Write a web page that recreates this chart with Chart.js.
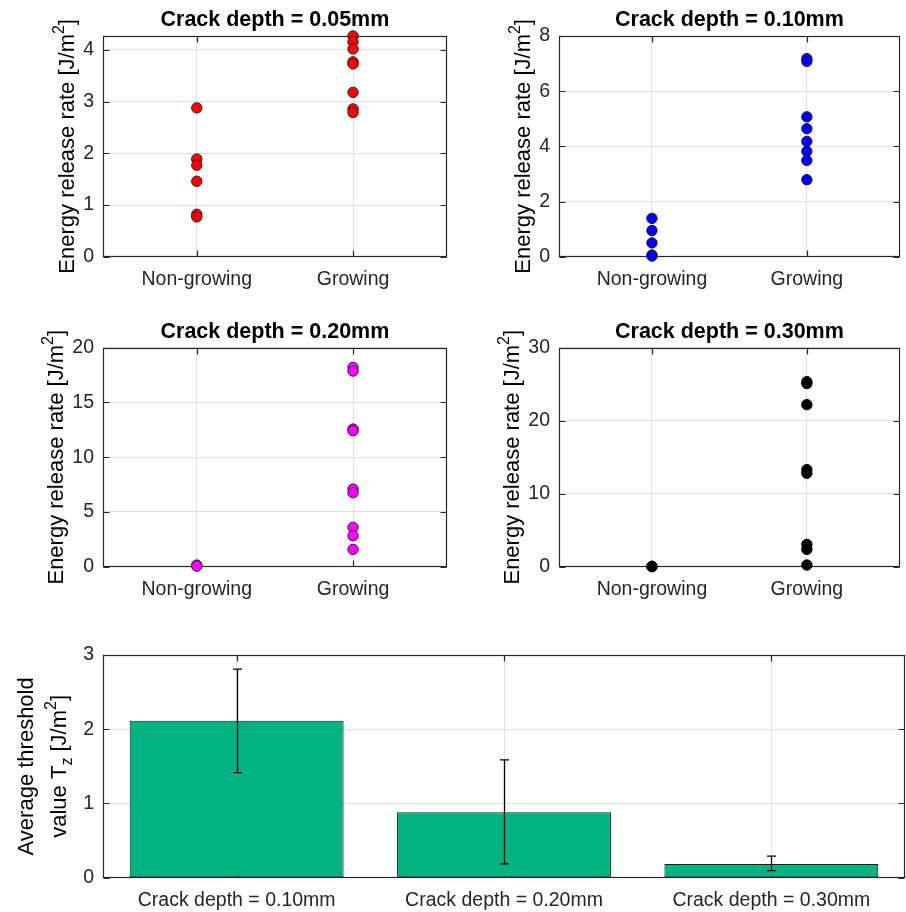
<!DOCTYPE html>
<html>
<head>
<meta charset="utf-8">
<script src="https://cdn.jsdelivr.net/npm/chart.js@4.4.0/dist/chart.umd.min.js"></script>
<style>
  body { margin: 0; background: #fff; }
  #wrap { position: relative; width: 906px; height: 912px; }
  canvas { position: absolute; }
</style>
</head>
<body>
<div id="wrap">
  <canvas id="c1" width="453" height="300" style="left:0;top:0"></canvas>
  <canvas id="c2" width="453" height="300" style="left:453px;top:0"></canvas>
  <canvas id="c3" width="453" height="300" style="left:0;top:311px"></canvas>
  <canvas id="c4" width="453" height="300" style="left:453px;top:311px"></canvas>
  <canvas id="c5" width="906" height="282" style="left:0;top:630px"></canvas>
</div>
<script>
// Scatter panels
const groupLabels = ['Non-growing', 'Growing'];
const groupPositions = [1, 2];

const nonGrowing005 = [2.88, 1.89, 1.77, 1.46, 0.82, 0.77];
const growing005 = [4.27, 4.16, 4.02, 3.77, 3.73, 3.18, 2.86, 2.79];
const ticks005 = [0, 1, 2, 3, 4];

const nonGrowing010 = [1.39, 0.95, 0.5, 0.06, 0.02];
const growing010 = [7.18, 7.08, 5.07, 4.64, 4.18, 3.82, 3.49, 2.79];
const ticks010 = [0, 2, 4, 6, 8];

const nonGrowing020 = [0.15, 0.05];
const growing020 = [18.2, 17.87, 12.57, 12.42, 7.09, 6.76, 3.59, 2.83, 1.58];
const ticks020 = [0, 5, 10, 15, 20];

const nonGrowing030 = [0.05, 0.0];
const growing030 = [25.34, 25.1, 22.2, 13.3, 12.8, 3.06, 2.37, 0.23];
const ticks030 = [0, 10, 20, 30];

// Bar panel
const depthCategories = ['Crack depth = 0.10mm', 'Crack depth = 0.20mm', 'Crack depth = 0.30mm'];
const thresholdMean = [2.115, 0.88, 0.185];
const thresholdLow = [1.415, 0.185, 0.094];
const thresholdHigh = [2.81, 1.586, 0.29];
const thresholdTicks = [0, 1, 2, 3];

const FONT = "'Liberation Sans', Arial, Helvetica, sans-serif";
const AXIS_COLOR = '#262626';
const GRID_COLOR = '#e0e0e0';

Chart.defaults.font.family = FONT;
Chart.defaults.color = AXIS_COLOR;

// box, inner ticks, title and rich y label (MATLAB look)
const axesBox = {
  id: 'axesBox',
  beforeDatasetsDraw(chart) {
    const { ctx, chartArea: a, scales } = chart;
    const L = Math.round(a.left) + 0.5, R = Math.round(a.right) - 0.5;
    const T = Math.round(a.top) + 0.5, B = Math.round(a.bottom) - 0.5;
    ctx.save();
    ctx.strokeStyle = AXIS_COLOR;
    ctx.lineWidth = 1.2;
    ctx.beginPath();
    scales.x.ticks.forEach((t, i) => {
      const px = Math.round(scales.x.getPixelForTick(i)) + 0.5;
      ctx.moveTo(px, B); ctx.lineTo(px, B - 6);
      ctx.moveTo(px, T); ctx.lineTo(px, T + 6);
    });
    scales.y.ticks.forEach((t, i) => {
      const py = Math.round(scales.y.getPixelForTick(i)) + 0.5;
      ctx.moveTo(L, py); ctx.lineTo(L + 6, py);
      ctx.moveTo(R, py); ctx.lineTo(R - 6, py);
    });
    ctx.stroke();
    ctx.strokeRect(L, T, R - L, B - T);
    ctx.restore();
  },
  afterDraw(chart, args, opts) {
    const { ctx, chartArea: a } = chart;
    ctx.save();
    ctx.fillStyle = '#000';
    if (opts.title) {
      ctx.font = 'bold 21.5px ' + FONT;
      ctx.textAlign = 'center';
      ctx.textBaseline = 'alphabetic';
      ctx.fillText(opts.title, (a.left + a.right) / 2, a.top - 10);
    }
    const cy = (a.top + a.bottom) / 2;
    (opts.ylabel || []).forEach((line, li) => {
      const size = 22;
      const fontFor = s => (s.sup || s.sub ? Math.round(size * 0.72) : size) + 'px ' + FONT;
      let total = 0;
      line.forEach(s => { ctx.font = fontFor(s); total += ctx.measureText(s.t).width; });
      ctx.save();
      ctx.translate(a.left + opts.ylabelOffsets[li], cy);
      ctx.rotate(-Math.PI / 2);
      ctx.textAlign = 'left';
      ctx.textBaseline = 'alphabetic';
      let x = -total / 2;
      line.forEach(s => {
        ctx.font = fontFor(s);
        const dy = s.sup ? -10 : (s.sub ? 6 : 0);
        ctx.fillText(s.t, x, dy);
        x += ctx.measureText(s.t).width;
      });
      ctx.restore();
    });
    ctx.restore();
  }
};

const errorBars = {
  id: 'errorBars',
  afterDatasetsDraw(chart) {
    const { ctx, scales } = chart;
    const meta = chart.getDatasetMeta(0);
    ctx.save();
    ctx.strokeStyle = '#000';
    ctx.lineWidth = 1.3;
    meta.data.forEach((bar, i) => {
      const x = Math.round(bar.x) + 0.5;
      const yl = scales.y.getPixelForValue(thresholdLow[i]);
      const yh = scales.y.getPixelForValue(thresholdHigh[i]);
      ctx.beginPath();
      ctx.moveTo(x, yl); ctx.lineTo(x, yh);
      ctx.moveTo(x - 4.5, yl); ctx.lineTo(x + 4.5, yl);
      ctx.moveTo(x - 4.5, yh); ctx.lineTo(x + 4.5, yh);
      ctx.stroke();
    });
    ctx.restore();
  }
};

const energyLabel = [[{ t: 'Energy release rate [J/m' }, { t: '2', sup: true }, { t: ']' }]];

function makeScatter(id, title, nonGrowing, growing, yTicks, yMax, color, edge, yAxisWidth, padRight, xAxisHeight, padTop, labelOffset) {
  const points = nonGrowing.map(v => ({ x: groupPositions[0], y: v }))
    .concat(growing.map(v => ({ x: groupPositions[1], y: v })));
  new Chart(document.getElementById(id), {
    type: 'scatter',
    data: {
      datasets: [{
        data: points,
        pointRadius: 5.2,
        pointHoverRadius: 5.2,
        pointBackgroundColor: color,
        pointBorderColor: edge,
        pointBorderWidth: 1,
        clip: false
      }]
    },
    options: {
      responsive: false,
      animation: false,
      events: [],
      layout: { padding: { top: padTop, right: padRight, left: 0, bottom: 0 } },
      plugins: {
        legend: { display: false },
        tooltip: { enabled: false },
        axesBox: { title: title, ylabel: energyLabel, ylabelOffsets: [labelOffset] }
      },
      scales: {
        x: {
          type: 'linear',
          min: 0.4,
          max: 2.6,
          afterBuildTicks: s => { s.ticks = groupPositions.map(v => ({ value: v })); },
          afterFit: s => { s.height = xAxisHeight; },
          ticks: {
            callback: v => groupLabels[groupPositions.indexOf(v)] || '',
            font: { size: 19.5 },
            color: AXIS_COLOR,
            padding: 11.5,
            maxRotation: 0
          },
          grid: { color: GRID_COLOR, drawTicks: false },
          border: { display: false }
        },
        y: {
          min: 0,
          max: yMax,
          afterBuildTicks: s => { s.ticks = yTicks.map(v => ({ value: v })); },
          afterFit: s => { s.width = yAxisWidth; },
          ticks: {
            callback: v => String(v),
            font: { size: 19.5 },
            color: AXIS_COLOR,
            padding: 9
          },
          grid: { color: GRID_COLOR, drawTicks: false },
          border: { display: false }
        }
      }
    },
    plugins: [axesBox]
  });
}

makeScatter('c1', 'Crack depth = 0.05mm', nonGrowing005, growing005, ticks005, 4.27, '#ff0000', '#3a1a1a', 103, 5, 43.3, 36, -29.5);
makeScatter('c2', 'Crack depth = 0.10mm', nonGrowing010, growing010, ticks010, 8, '#0000ff', '#1a1a3a', 106, 1, 43.3, 36, -29.5);
makeScatter('c3', 'Crack depth = 0.20mm', nonGrowing020, growing020, ticks020, 20, '#ff00ff', '#3a1a3a', 103, 5, 44.3, 36.7, -40);
makeScatter('c4', 'Crack depth = 0.30mm', nonGrowing030, growing030, ticks030, 30, '#000000', '#000000', 106, 1, 44.3, 36.7, -40);

new Chart(document.getElementById('c5'), {
  type: 'bar',
  data: {
    labels: depthCategories,
    datasets: [{
      data: thresholdMean,
      backgroundColor: '#00b381',
      borderColor: '#1a1a1a',
      borderWidth: 1,
      borderSkipped: false,
      barPercentage: 0.8,
      categoryPercentage: 1.0
    }]
  },
  options: {
    responsive: false,
    animation: false,
    events: [],
    layout: { padding: { top: 25, right: 1, left: 0, bottom: 0 } },
    plugins: {
      legend: { display: false },
      tooltip: { enabled: false },
      axesBox: {
        ylabel: [
          [{ t: 'Average threshold' }],
          [{ t: 'value T' }, { t: 'z', sub: true }, { t: ' [J/m' }, { t: '2', sup: true }, { t: ']' }]
        ],
        ylabelOffsets: [-70, -37]
      }
    },
    scales: {
      x: {
        offset: true,
        afterFit: s => { s.height = 34.3; },
        ticks: { font: { size: 19.5 }, color: AXIS_COLOR, padding: 11.5, maxRotation: 0 },
        grid: { color: GRID_COLOR, drawTicks: false, offset: false },
        border: { display: false }
      },
      y: {
        min: 0,
        max: 3,
        afterBuildTicks: s => { s.ticks = thresholdTicks.map(v => ({ value: v })); },
        afterFit: s => { s.width = 103; },
        ticks: { callback: v => String(v), font: { size: 19.5 }, color: AXIS_COLOR, padding: 9 },
        grid: { color: GRID_COLOR, drawTicks: false },
        border: { display: false }
      }
    }
  },
  plugins: [axesBox, errorBars]
});
</script>
</body>
</html>
